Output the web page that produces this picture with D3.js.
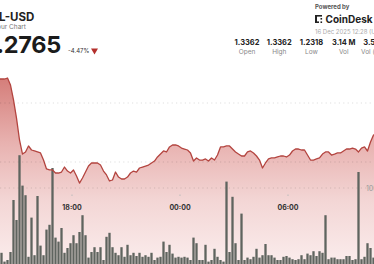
<!DOCTYPE html>
<html>
<head>
<meta charset="utf-8">
<script src="https://cdn.jsdelivr.net/npm/d3@7"></script>
<style>
body { margin: 0; background: #fff; overflow: hidden; }
svg { display: block; font-family: Inter, "Open Sans", sans-serif; }
</style>
</head>
<body>
<script>
// 10 minute candles, first one at 13:50
const prices = [
    1.3344, 1.3344, 1.3344, 1.3354, 1.3283, 1.3131, 1.2947, 1.2724, 1.2581, 1.2602,
    1.2663, 1.2622, 1.2612, 1.2602, 1.2592, 1.2520, 1.2429, 1.2419, 1.2419, 1.2388,
    1.2388, 1.2398, 1.2449, 1.2408, 1.2388, 1.2419, 1.2358, 1.2286, 1.2337, 1.2398,
    1.2459, 1.2490, 1.2490, 1.2490, 1.2469, 1.2408, 1.2368, 1.2307, 1.2317, 1.2398,
    1.2347, 1.2327, 1.2327, 1.2347, 1.2388, 1.2408, 1.2398, 1.2439, 1.2449, 1.2459,
    1.2469, 1.2490, 1.2510, 1.2551, 1.2581, 1.2612, 1.2602, 1.2653, 1.2673, 1.2673,
    1.2663, 1.2642, 1.2632, 1.2622, 1.2592, 1.2510, 1.2541, 1.2520, 1.2520, 1.2531,
    1.2510, 1.2541, 1.2520, 1.2571, 1.2653, 1.2653, 1.2663, 1.2663, 1.2632, 1.2602,
    1.2581, 1.2561, 1.2561, 1.2602, 1.2612, 1.2592, 1.2561, 1.2520, 1.2439, 1.2490,
    1.2531, 1.2541, 1.2541, 1.2551, 1.2561, 1.2561, 1.2551, 1.2571, 1.2612, 1.2632,
    1.2632, 1.2622, 1.2622, 1.2571, 1.2520, 1.2520, 1.2531, 1.2541, 1.2581, 1.2602,
    1.2602, 1.2571, 1.2581, 1.2592, 1.2592, 1.2612, 1.2632, 1.2632, 1.2642, 1.2632,
    1.2602, 1.2642, 1.2653, 1.2612, 1.2703, 1.2775, 1.2775
];

// volume per candle, in thousands
const volumes = [
    15, 19, 8, 10, 20, 85, 60, 141, 103, 91,
    14, 63, 16, 90, 28, 16, 48, 54, 125, 38,
    33, 50, 19, 25, 31, 41, 31, 45, 66, 41,
    13, 20, 26, 20, 26, 10, 39, 44, 26, 19,
    16, 26, 14, 29, 16, 19, 15, 19, 14, 16,
    14, 19, 10, 13, 14, 33, 20, 29, 18, 13,
    14, 13, 14, 13, 10, 38, 31, 10, 10, 29,
    8, 10, 24, 14, 10, 8, 108, 20, 89, 31,
    10, 68, 10, 13, 11, 14, 24, 13, 16, 30,
    16, 16, 13, 10, 10, 14, 15, 13, 11, 10,
    11, 16, 11, 18, 16, 21, 15, 21, 19, 66,
    11, 13, 13, 11, 11, 11, 15, 15, 10, 11,
    120, 11, 14, 31, 25, 13, 12
];

const timeTicks = [new Date(2025, 11, 15, 18, 0), new Date(2025, 11, 16, 0, 0), new Date(2025, 11, 16, 6, 0)];
const priceTicks = [1.25, 1.31];
const volumeTicks = [100];

const statValues = ["1.3362", "1.3362", "1.2318", "3.14 M", "3.58 M"];
const statLabels = ["Open", "High", "Low", "Vol", "Vol (USD)"];

const firstCandle = new Date(2025, 11, 15, 13, 50);
const candles = prices.map((p, i) => ({
    time: d3.timeMinute.offset(firstCandle, 10 * i),
    price: p,
    volume: volumes[i]
}));

const width = 374;
const height = 264;

const x = d3.scaleTime()
    .domain([new Date(2025, 11, 15, 14, 0), new Date(2025, 11, 16, 6, 0)])
    .range([0, 288]);
const y = d3.scaleLinear().domain([1.25, 1.31]).range([162, 103]);
const yVol = d3.scaleLinear().domain([0, 100]).range([268, 188]);

const mid = d => x(d3.timeMinute.offset(d.time, 5));

const svg = d3.select("body")
    .append("svg")
    .attr("width", width)
    .attr("height", height);

// gradient under the price
const grad = svg.append("defs").append("linearGradient")
    .attr("id", "fill")
    .attr("gradientUnits", "userSpaceOnUse")
    .attr("x1", 0).attr("x2", 0)
    .attr("y1", 76).attr("y2", 268);
[["0%", "#d47c78"], ["35%", "#e8b2b0"], ["65%", "#f3d6d5"], ["100%", "#fbeeee"]]
    .forEach(s => grad.append("stop").attr("offset", s[0]).attr("stop-color", s[1]));

svg.append("path")
    .datum(candles)
    .attr("fill", "url(#fill)")
    .attr("d", d3.area().x(mid).y0(268).y1(d => y(d.price)));

// grid
const grid = svg.append("g")
    .attr("stroke", "rgba(0,0,0,0.13)")
    .attr("stroke-dasharray", "1.2 3.2");
grid.selectAll(".pg").data(priceTicks).join("line")
    .attr("x1", 0).attr("x2", width)
    .attr("y1", d => y(d)).attr("y2", d => y(d));
grid.selectAll(".vg").data(volumeTicks).join("line")
    .attr("x1", 0).attr("x2", width)
    .attr("y1", d => yVol(d)).attr("y2", d => yVol(d));

svg.selectAll(".vlabel").data(volumeTicks).join("text")
    .attr("x", 366)
    .attr("y", d => yVol(d) + 2.5)
    .attr("font-size", 7)
    .attr("fill", "#999")
    .text(d => d + "k");

// volume bars
svg.append("g").selectAll("rect").data(candles).join("rect")
    .attr("x", d => x(d.time) + 0.35)
    .attr("width", d => x(d3.timeMinute.offset(d.time, 10)) - x(d.time) - 0.7)
    .attr("y", d => yVol(d.volume))
    .attr("height", d => yVol(0) - yVol(d.volume))
    .attr("fill", "#5f645f");

// price line
svg.append("path")
    .datum(candles)
    .attr("fill", "none")
    .attr("stroke", "#b3443f")
    .attr("stroke-width", 1.3)
    .attr("stroke-linejoin", "round")
    .attr("d", d3.line().x(mid).y(d => y(d.price)));

// time axis
const fmt = d3.timeFormat("%H:%M");
svg.selectAll(".tick").data(timeTicks).join("line")
    .attr("x1", d => x(d)).attr("x2", d => x(d))
    .attr("y1", 194.5).attr("y2", 196)
    .attr("stroke", "#bbb");
svg.selectAll(".tlabel").data(timeTicks).join("text")
    .attr("x", d => x(d))
    .attr("y", 209.5)
    .attr("text-anchor", "middle")
    .attr("font-size", 7)
    .attr("font-weight", 700)
    .attr("fill", "#333")
    .text(fmt);

// header left
svg.append("text").attr("x", -1).attr("y", 20.5)
    .attr("font-size", 11.5).attr("font-weight", 700).attr("fill", "#222")
    .text("L-USD");
svg.append("text").attr("x", 26).attr("y", 28.5)
    .attr("text-anchor", "end")
    .attr("font-size", 6.5).attr("fill", "#777")
    .text("24 Hour Chart");
svg.append("text").attr("x", 61).attr("y", 53)
    .attr("text-anchor", "end")
    .attr("font-size", 23.5).attr("font-weight", 700).attr("fill", "#1b1b1b")
    .attr("letter-spacing", -0.3)
    .text("1.2765");
svg.append("text").attr("x", 68).attr("y", 53)
    .attr("font-size", 6).attr("fill", "#333")
    .text("-4.47%");
svg.append("path")
    .attr("d", "M91,48.5 L98,48.5 L94.5,54.5 Z")
    .attr("fill", "#b3302c");

// header right
svg.append("text").attr("x", 315).attr("y", 9)
    .attr("font-size", 6).attr("font-weight", 700).attr("fill", "#555")
    .text("Powered by");
const logo = svg.append("g").attr("fill", "#222");
logo.append("rect").attr("x", 315).attr("y", 15).attr("width", 2).attr("height", 8);
logo.append("rect").attr("x", 315).attr("y", 15).attr("width", 7).attr("height", 1.6);
logo.append("rect").attr("x", 315).attr("y", 21.4).attr("width", 4).attr("height", 1.6);
logo.append("rect").attr("x", 320.5).attr("y", 18).attr("width", 1.6).attr("height", 1.6);
logo.append("rect").attr("x", 320.5).attr("y", 21.4).attr("width", 1.6).attr("height", 1.6);
svg.append("text").attr("x", 325.5).attr("y", 23)
    .attr("font-size", 10).attr("font-weight", 700).attr("fill", "#222")
    .text("CoinDesk Data");
svg.append("text").attr("x", 315).attr("y", 33.5)
    .attr("font-size", 6).attr("fill", "#aaa")
    .text("16 Dec 2025 12:28 (UTC)");

const statX = d3.scalePoint().domain(d3.range(statValues.length)).range([247, 376]);
svg.selectAll(".sval").data(statValues).join("text")
    .attr("x", (d, i) => statX(i)).attr("y", 45)
    .attr("text-anchor", "middle")
    .attr("font-size", 7.5).attr("font-weight", 700).attr("fill", "#222")
    .text(d => d);
svg.selectAll(".slab").data(statLabels).join("text")
    .attr("x", (d, i) => statX(i)).attr("y", 54)
    .attr("text-anchor", "middle")
    .attr("font-size", 6.5).attr("fill", "#888")
    .text(d => d);
</script>
</body>
</html>
